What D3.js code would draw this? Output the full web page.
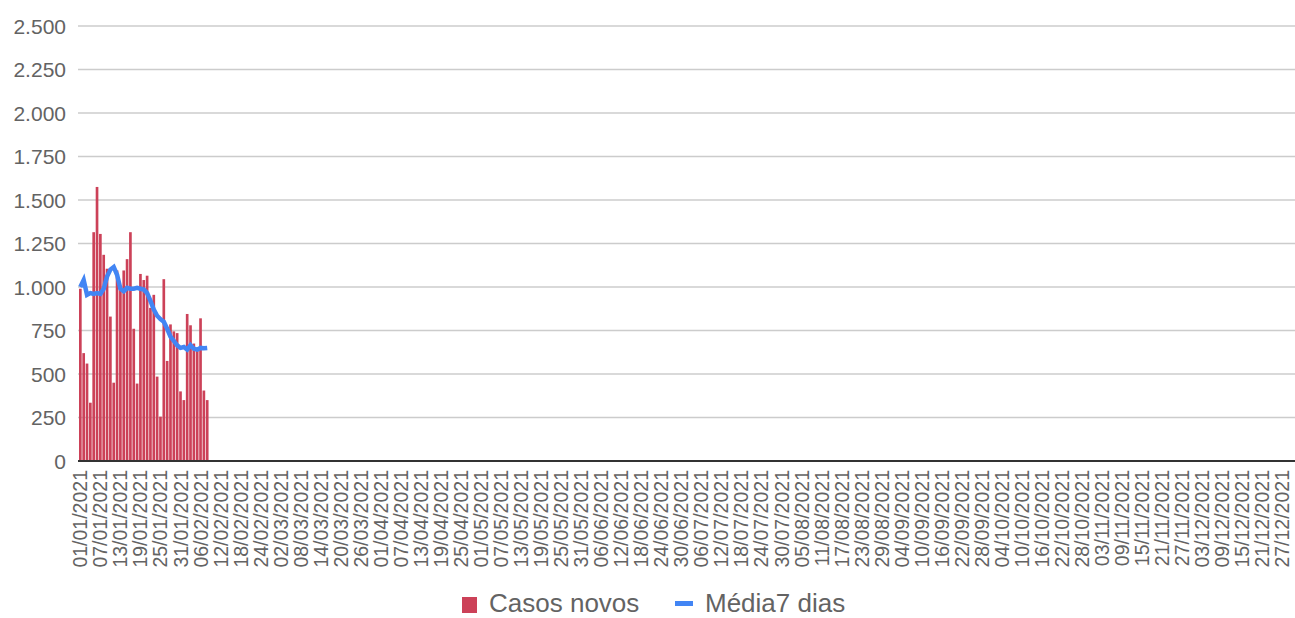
<!DOCTYPE html>
<html>
<head>
<meta charset="utf-8">
<script src="https://cdn.jsdelivr.net/npm/d3@7"></script>
<style>
  body { margin: 0; background: #fff; }
  text { font-family: Arial, "Liberation Sans", sans-serif; fill: #636363; }
</style>
</head>
<body>
<div id="chart"></div>
<script>
// daily new cases, 01/01/2021 onwards
let casosNovos = [990, 620, 560, 335, 1315, 1575, 1305, 1185, 1105, 830,
  450, 1095, 1000, 1095, 1160, 1315, 760, 445, 1075, 1040,
  1065, 880, 955, 485, 255, 1045, 575, 785, 745, 735,
  400, 350, 845, 780, 675, 640, 820, 405, 350];

// 7-day average
let media7 = [1000, 1040, 955, 965, 960, 965, 960, 990, 1060, 1100,
  1115, 1070, 990, 975, 995, 990, 990, 995, 990, 985,
  965, 920, 870, 835, 815, 800, 760, 715, 690, 665,
  650, 655, 640, 665, 645, 640, 650, 648, 650];

let yTicks = [0, 250, 500, 750, 1000, 1250, 1500, 1750, 2000, 2250, 2500];

// every day of 2021 is a category on the x axis
let fmt = d3.timeFormat("%d/%m/%Y");
let days = d3.timeDay.range(new Date(2021, 0, 1), new Date(2022, 0, 1)).map(fmt);

let width = 1295, height = 618;
let plotLeft = 79, plotRight = 1297, plotTop = 26, plotBottom = 461;

let svg = d3.select("#chart").append("svg")
  .attr("width", width)
  .attr("height", height);

let x = d3.scaleBand()
  .domain(days)
  .range([plotLeft, plotRight])
  .paddingInner(0.2)
  .paddingOuter(0);

let y = d3.scaleLinear()
  .domain([0, 2500])
  .range([plotBottom, plotTop]);

// gridlines
svg.append("g")
  .selectAll("line")
  .data(yTicks.filter(d => d > 0))
  .enter().append("line")
  .attr("x1", plotLeft - 1).attr("x2", width)
  .attr("y1", d => y(d)).attr("y2", d => y(d))
  .attr("stroke", "#cccccc")
  .attr("stroke-width", 1.5);

// y labels
svg.append("g")
  .selectAll("text")
  .data(yTicks)
  .enter().append("text")
  .attr("x", 66)
  .attr("y", d => y(d))
  .attr("dy", "0.36em")
  .attr("text-anchor", "end")
  .style("font-size", "21px")
  .text(d => d3.format(",")(d).replace(/,/g, "."));

// bars
svg.append("g")
  .selectAll("rect")
  .data(casosNovos)
  .enter().append("rect")
  .attr("x", (d, i) => x(days[i]))
  .attr("width", x.bandwidth())
  .attr("y", d => y(d))
  .attr("height", d => y(0) - y(d))
  .attr("fill", "#cc4158");

// baseline
svg.append("line")
  .attr("x1", plotLeft - 1).attr("x2", width)
  .attr("y1", y(0)).attr("y2", y(0))
  .attr("stroke", "#333")
  .attr("stroke-width", 2);

// 7-day line
let line = d3.line()
  .x((d, i) => x(days[i]) + x.bandwidth() / 2)
  .y(d => y(d));

svg.append("path")
  .datum(media7)
  .attr("d", line)
  .attr("fill", "none")
  .attr("stroke", "#4285f4")
  .attr("stroke-width", 4.5)
  .attr("stroke-linejoin", "miter");

// x labels, every 6th day
let xAxis = svg.append("g");
xAxis.selectAll("text")
  .data(days.filter((d, i) => i % 6 === 0))
  .enter().append("text")
  .attr("transform", d => "translate(" + (x(d) + x.bandwidth() / 2) + "," + (plotBottom + 9) + ")rotate(-90)")
  .attr("dy", "0.36em")
  .attr("text-anchor", "end")
  .style("font-size", "19.5px")
  .text(d => d);

// legend
let legend = svg.append("g");
legend.append("rect")
  .attr("x", 462).attr("y", 597)
  .attr("width", 15).attr("height", 16)
  .attr("fill", "#cc4158");
legend.append("text")
  .attr("x", 489).attr("y", 612)
  .style("font-size", "26px")
  .text("Casos novos");
legend.append("rect")
  .attr("x", 675).attr("y", 601)
  .attr("width", 18).attr("height", 5)
  .attr("fill", "#4285f4");
legend.append("text")
  .attr("x", 705).attr("y", 612)
  .style("font-size", "26px")
  .text("Média7 dias");
</script>
</body>
</html>
